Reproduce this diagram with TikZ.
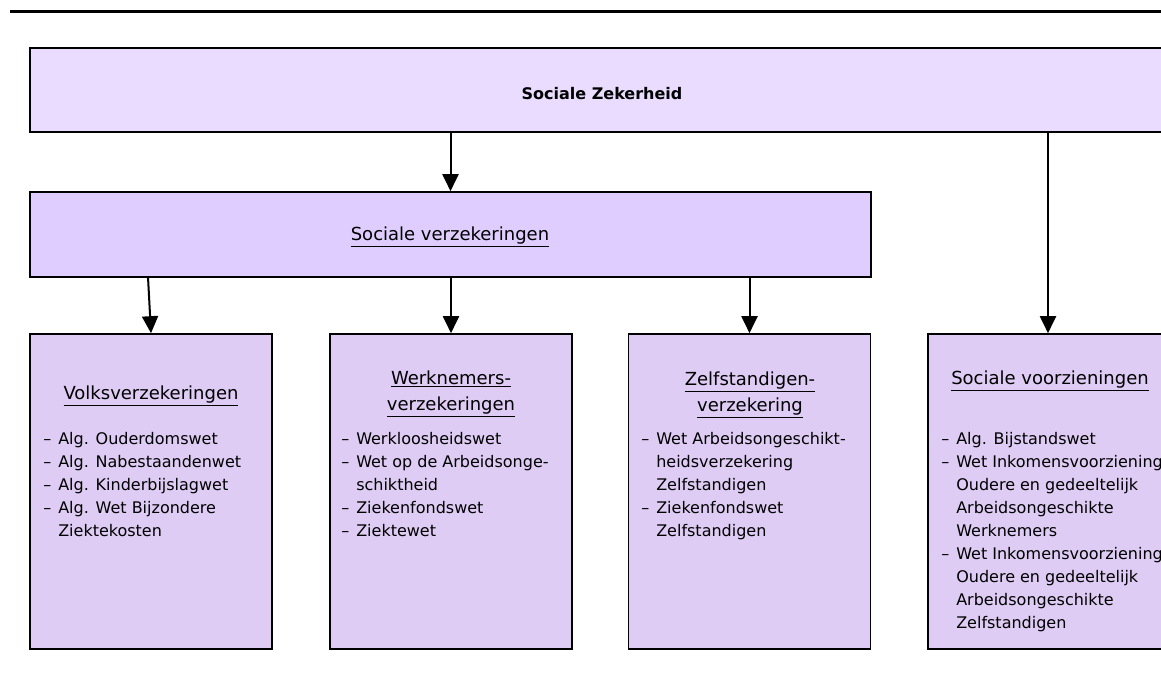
\documentclass[tikz,border=0pt]{standalone}
\usepackage{fontspec}
\setmainfont{DejaVu Sans}
\usetikzlibrary{arrows.meta}
\newdimen\pxu \pxu=0.75pt
\definecolor{zekfill}{HTML}{E9DCFF}
\definecolor{verzfill}{HTML}{E0CDFF}
\definecolor{wetfill}{HTML}{DFCCF5}
\def\streep{\makebox[15\pxu][l]{--}}
\def\verder{\hspace*{15\pxu}}

\begin{document}
\begin{tikzpicture}[x=0.75pt, y=-0.75pt,
    box/.style={draw=black, line width=1.6\pxu, inner sep=0pt},
    wetbox/.style={box, fill=wetfill, minimum width=242\pxu, minimum height=315\pxu},
    kop/.style={font=\fontsize{13.5}{19.5}\selectfont, align=center, inner sep=0pt},
    lijst/.style={font=\fontsize{12}{17.25}\selectfont, align=left, inner sep=0pt, anchor=north west},
    pijl/.style={line width=1.5pt, -{Triangle[width=12pt,length=12.75pt]}}]
    %%%%% START %%%%%
    \useasboundingbox (0,0) rectangle (1161,680);
    \clip (0,0) rectangle (1161,680);

    \draw[line width=3\pxu] (10,11.5) -- (1161,11.5);

    \node[box, fill=zekfill, minimum width=1144\pxu, minimum height=84\pxu] (zek) at (602,90) {};
    \node[inner sep=0pt, font=\fontsize{12}{16}\selectfont\bfseries] (zektekst) at (602,94) {Sociale Zekerheid};
    \node[box, fill=verzfill, minimum width=841\pxu, minimum height=85\pxu] (verz) at (450.5,234.5) {};
    \node[kop] (verztekst) at (450,237) {\underline{Sociale verzekeringen}};

    \node[wetbox] (volks) at (151,491.5) {};
    \node[wetbox] (werk) at (451,491.5) {};
    \node[wetbox] (zelf) at (749.5,491.5) {};
    \node[wetbox, minimum width=240\pxu] (voorz) at (1048,491.5) {};

    \node[kop] (volkskop) at (151,396) {\underline{Volksverzekeringen}};
    \node[lijst] (volkslijst) at (43,432) {\streep Alg. Ouderdomswet\\
        \streep Alg. Nabestaandenwet\\
        \streep Alg. Kinderbijslagwet\\
        \streep Alg. Wet Bijzondere\\
        \verder Ziektekosten};

    \node[kop] (werkkop) at (451,394) {\underline{Werknemers-}\\\underline{verzekeringen}};
    \node[lijst] (werklijst) at (341,432) {\streep Werkloosheidswet\\
        \streep Wet op de Arbeidsonge-\\
        \verder schiktheid\\
        \streep Ziekenfondswet\\
        \streep Ziektewet};

    \node[kop] (zelfkop) at (750,395) {\underline{Zelfstandigen-}\\\underline{verzekering}};
    \node[lijst] (zelflijst) at (641,432) {\streep Wet Arbeidsongeschikt-\\
        \verder heidsverzekering\\
        \verder Zelfstandigen\\
        \streep Ziekenfondswet\\
        \verder Zelfstandigen};

    \node[kop] (voorzkop) at (1050,381) {\underline{Sociale voorzieningen}};
    \node[lijst] (voorzlijst) at (941,432) {\streep Alg. Bijstandswet\\
        \streep Wet Inkomensvoorziening\\
        \verder Oudere en gedeeltelijk\\
        \verder Arbeidsongeschikte\\
        \verder Werknemers\\
        \streep Wet Inkomensvoorziening\\
        \verder Oudere en gedeeltelijk\\
        \verder Arbeidsongeschikte\\
        \verder Zelfstandigen};

    \coordinate (volksvan) at (148,277);
    \draw[pijl] (verz.north |- zek.south) -- (verz.north);
    \draw[pijl] (voorz.north |- zek.south) -- (voorz.north);
    \draw[pijl] (volksvan) -- (volks.north);
    \draw[pijl] (werk.north |- verz.south) -- (werk.north);
    \draw[pijl] (zelf.north |- verz.south) -- (zelf.north);
    %%%%% END %%%%%
\end{tikzpicture}
\end{document}
